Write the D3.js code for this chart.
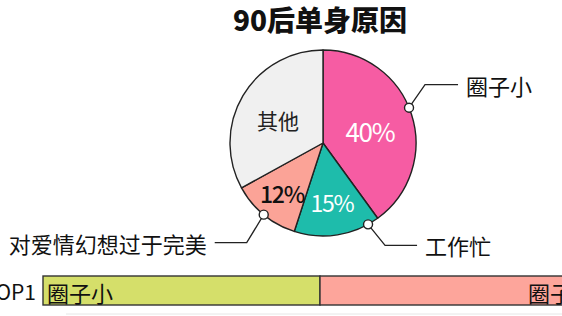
<!DOCTYPE html>
<html>
<head>
<meta charset="utf-8">
<script src="https://cdn.jsdelivr.net/npm/d3@7/dist/d3.min.js"></script>
<style>
  html, body { margin: 0; padding: 0; background: #fff; overflow: hidden; }
  svg { display: block; }
  text { font-family: "Noto Sans CJK SC", "Noto Sans", sans-serif; }
</style>
</head>
<body>
<svg id="chart" width="562" height="316"></svg>
<script>
// Reasons for being single among people born in the 1990s
const title = "90后单身原因";
const categories = ["圈子小", "工作忙", "对爱情幻想过于完美", "其他"];
const values = [40, 15, 12, 33];
const sliceLabels = ["40%", "15%", "12%", "其他"];
const colors = ["#f65ca3", "#1ebcab", "#fba397", "#f0f0f0"];
const labelColors = ["#ffffff", "#ffffff", "#111111", "#222222"];

// Ranking bar below the pie
const rankLabel = "TOP1";
const barSegments = ["圈子小", "圈子小"];
const barShares = [50, 50];
const barColors = ["#d5df6a", "#fda59b"];

const svg = d3.select("#chart");
const W = 562;
const cx = 323, cy = 143, R = 93;

svg.append("text")
  .attr("x", 320).attr("y", 31)
  .attr("text-anchor", "middle")
  .attr("font-size", 28).attr("font-weight", 900)
  .attr("fill", "#111")
  .text(title);

const pie = d3.pie().sort(null).value(d => d)(values);
const arc = d3.arc().innerRadius(0).outerRadius(R);

const g = svg.append("g").attr("transform", `translate(${cx},${cy})`);
g.selectAll("path.slice").data(pie).join("path")
  .attr("class", "slice")
  .attr("d", arc)
  .attr("fill", (d, i) => colors[i])
  .attr("stroke", "#222")
  .attr("stroke-width", 1.4)
  .attr("stroke-linejoin", "round");

// in-slice labels: [x offset, y offset, font size] relative to the pie centre
const labelPos = [[47, -13, 26], [9, 59, 23], [-41, 50, 23], [-45, -23, 21]];
g.selectAll("text.slabel").data(pie).join("text")
  .attr("class", "slabel")
  .attr("x", (d, i) => labelPos[i][0])
  .attr("y", (d, i) => labelPos[i][1])
  .attr("text-anchor", "middle")
  .attr("dominant-baseline", "central")
  .attr("font-family", (d, i) => i < 3 ? "Roboto, 'Noto Sans', sans-serif" : "'Noto Sans CJK SC', sans-serif")
  .attr("font-weight", (d, i) => i === 2 ? 500 : 400)
  .attr("font-size", (d, i) => labelPos[i][2])
  .attr("letter-spacing", (d, i) => i < 3 ? -1.2 : 0)
  .attr("fill", (d, i) => labelColors[i])
  .text((d, i) => sliceLabels[i]);

// leader lines: where on the slice the dot sits, elbow offset, run direction and length
const leaders = [
  { slice: 0, t: 0.47, dx: 16, dy: -23, run: 33 },
  { slice: 1, t: 0.13, dx: 17, dy: 21, run: 32 },
  { slice: 2, t: 0.5, dx: -17, dy: 28, run: -32 }
];
leaders.forEach(l => {
  const p = pie[l.slice];
  const a = p.startAngle + (p.endAngle - p.startAngle) * l.t;
  const x0 = Math.sin(a) * R, y0 = -Math.cos(a) * R;
  const x1 = x0 + l.dx, y1 = y0 + l.dy;
  const x2 = x1 + l.run;
  g.append("path")
    .attr("d", d3.line()([[x0, y0], [x1, y1], [x2, y1]]))
    .attr("fill", "none").attr("stroke", "#222").attr("stroke-width", 1.3);
  g.append("circle")
    .attr("cx", x0).attr("cy", y0).attr("r", 4.5)
    .attr("fill", "#fff").attr("stroke", "#222").attr("stroke-width", 1.4);
  g.append("text")
    .attr("x", x2 + (l.run > 0 ? 8 : -8)).attr("y", y1)
    .attr("text-anchor", l.run > 0 ? "start" : "end")
    .attr("dominant-baseline", "central")
    .attr("font-size", 22).attr("fill", "#111")
    .text(categories[l.slice]);
});

// ranking bar
const barTop = 276, barH = 29;
const total = d3.sum(barShares);
const xBar = d3.scaleLinear().domain([0, total]).range([43, 597]);
const stacked = d3.cumsum(barShares);
svg.append("text")
  .attr("x", 36).attr("y", barTop + barH / 2)
  .attr("text-anchor", "end").attr("dominant-baseline", "central")
  .attr("font-family", "Roboto, 'Noto Sans', sans-serif")
  .attr("font-size", 21).attr("fill", "#111")
  .text(rankLabel);

svg.selectAll("rect.seg").data(barShares).join("rect")
  .attr("class", "seg")
  .attr("x", (d, i) => xBar(stacked[i] - d))
  .attr("y", barTop)
  .attr("width", d => xBar(d) - xBar(0))
  .attr("height", barH)
  .attr("fill", (d, i) => barColors[i])
  .attr("stroke", "#333").attr("stroke-width", 1.4);

svg.selectAll("text.seg").data(barSegments).join("text")
  .attr("class", "seg")
  .attr("x", (d, i) => i === 0 ? xBar(0) + 4 : W - 34)
  .attr("y", barTop + barH / 2 + 1)
  .attr("dominant-baseline", "central")
  .attr("font-size", 22).attr("fill", "#111")
  .text(d => d);

svg.append("line")
  .attr("x1", 66).attr("x2", W).attr("y1", 314).attr("y2", 314)
  .attr("stroke", "#e6e6e6").attr("stroke-width", 1);
</script>
</body>
</html>
